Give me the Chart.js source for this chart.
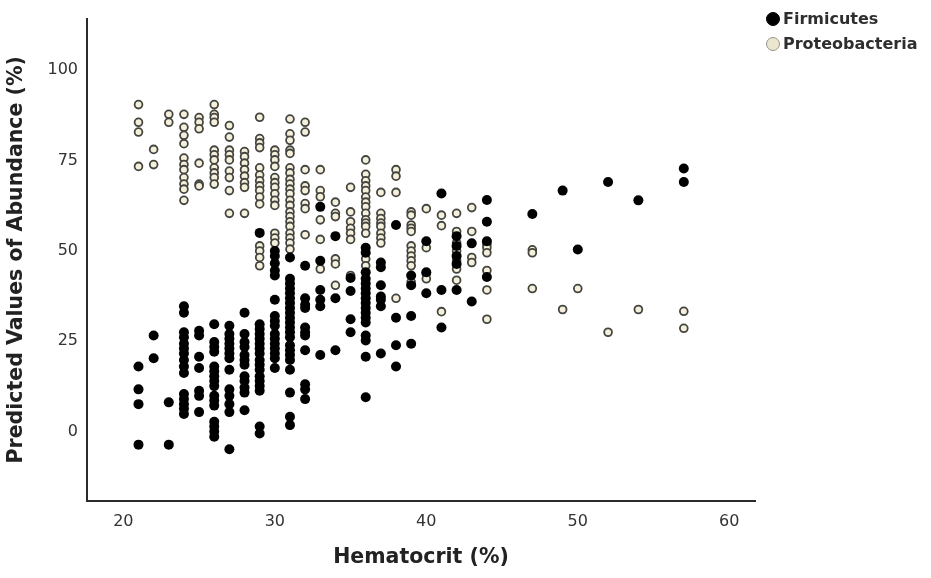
<!DOCTYPE html>
<html>
<head>
<meta charset="utf-8">
<script src="https://cdn.jsdelivr.net/npm/chart.js@4/dist/chart.umd.min.js"></script>
<style>
  html, body { margin: 0; padding: 0; background: #fff; }
  #wrap { position: relative; width: 931px; height: 578px; }
  #legend { position: absolute; left: 766px; top: 6px; font-family: "DejaVu Sans", sans-serif; font-weight: bold; font-size: 16px; color: #2e2e2e; }
  .item { display: flex; align-items: center; height: 25px; }
  .mk { width: 14px; height: 14px; border-radius: 50%; box-sizing: border-box; margin-right: 3px; }
</style>
</head>
<body>
<div id="wrap">
  <canvas id="c" width="931" height="578"></canvas>
  <div id="legend"></div>
</div>
<script>
// ---- data ----
const seriesNames = ["Firmicutes", "Proteobacteria"];
const hematocritLevels = [21,22,23,24,25,26,27,28,29,30,31,32,33,34,35,36,37,38,39,40,41,42,43,44,47,49,50,52,54,57];
const firmicutesByLevel = [
  [18.0, 11.7, 7.6, -3.6],
  [26.6, 20.3],
  [8.1, -3.6],
  [34.7, 32.9, 27.5, 26.1, 24.3, 23.0, 21.6, 19.8, 18.0, 16.2, 10.4, 9.0, 7.6, 6.3, 4.9],
  [27.9, 26.6, 20.7, 17.6, 11.3, 9.9, 5.4],
  [29.7, 24.8, 23.4, 22.1, 18.0, 16.7, 15.3, 14.0, 12.6, 9.9, 8.6, 7.2, 2.7, 1.4, 0, -1.4],
  [29.3, 27.0, 25.7, 24.3, 23.0, 21.6, 20.3, 17.1, 11.7, 9.9, 7.6, 5.4, -4.9],
  [32.9, 27.0, 24.8, 23.4, 21.2, 19.8, 18.5, 15.3, 14.0, 12.2, 10.8, 5.9],
  [55.0, 29.7, 28.4, 27.0, 25.7, 24.3, 23.0, 21.6, 19.8, 18.5, 17.1, 15.3, 14.0, 12.6, 11.3, 1.4, -0.5],
  [50.0, 48.6, 46.6, 44.6, 43.2, 36.5, 32.0, 30.6, 29.3, 27.0, 25.7, 24.3, 23.0, 21.6, 20.3, 17.6],
  [48.2, 42.3, 41.0, 39.6, 38.3, 36.9, 35.6, 34.2, 32.9, 31.5, 30.2, 28.8, 27.5, 26.1, 23.9, 22.5, 21.2, 19.8, 17.1, 10.8, 4.1, 1.8],
  [45.9, 36.9, 35.1, 34.2, 28.8, 27.5, 26.6, 22.5, 13.1, 11.7, 9.0],
  [62.2, 47.3, 39.2, 36.5, 34.7, 21.2],
  [54.1, 36.9, 22.5],
  [42.5, 38.9, 31.1, 27.5],
  [50.9, 49.5, 44.1, 42.3, 41.0, 39.6, 38.3, 36.9, 35.6, 34.2, 32.9, 31.5, 30.2, 26.6, 25.2, 20.7, 9.5],
  [46.8, 45.5, 40.5, 37.4, 36.5, 34.7, 21.6],
  [57.2, 31.5, 23.9, 18.0],
  [43.2, 40.5, 32.0, 24.3],
  [52.7, 44.1, 38.3],
  [65.9, 39.2, 28.8],
  [54.1, 51.4, 48.6, 46.4, 39.2],
  [52.1, 36.0],
  [64.1, 58.1, 52.7, 42.8],
  [60.2],
  [66.7],
  [50.4],
  [69.1],
  [64.0],
  [72.8, 69.1]
];
const proteobacteriaByLevel = [
  [90.5, 85.6, 82.9, 73.4],
  [78.1, 73.9],
  [87.8, 85.6],
  [87.8, 84.2, 82.0, 79.7, 75.7, 73.9, 72.5, 70.3, 68.5, 67.1, 64.0],
  [86.9, 85.6, 83.8, 74.3, 68.5, 68.0],
  [90.5, 87.8, 86.9, 85.6, 77.9, 76.6, 75.2, 73.0, 71.6, 70.3, 68.5],
  [84.7, 81.5, 77.9, 76.6, 75.2, 72.1, 70.3, 66.7, 60.4],
  [77.5, 76.1, 74.3, 72.5, 70.7, 68.9, 67.6, 60.4],
  [87.0, 81.1, 79.9, 78.6, 73.0, 71.0, 69.4, 68.0, 66.7, 64.9, 63.0, 51.4, 50.0, 48.2, 45.9],
  [77.9, 76.6, 75.2, 73.4, 70.3, 68.9, 67.6, 65.8, 64.0, 62.6, 54.9, 53.6, 52.2],
  [86.5, 82.4, 80.6, 77.9, 77.0, 73.0, 71.6, 69.8, 68.5, 67.1, 65.8, 64.0, 62.6, 60.8, 59.5, 58.1, 56.8, 54.9, 53.6, 52.2, 50.5],
  [85.6, 82.9, 72.5, 68.0, 66.7, 63.1, 61.7, 54.5],
  [72.5, 66.7, 65.0, 58.6, 53.2, 45.0],
  [63.5, 60.4, 59.5, 47.8, 46.4, 40.5],
  [67.6, 60.8, 58.1, 56.3, 54.9, 53.2, 43.2],
  [75.2, 71.2, 69.4, 68.0, 66.7, 64.9, 63.5, 62.2, 60.4, 58.6, 57.7, 56.8, 54.9, 47.8, 45.9],
  [66.2, 60.4, 59.0, 57.7, 56.8, 54.9, 53.6, 52.2],
  [72.5, 70.7, 66.2, 36.9],
  [60.8, 59.9, 57.2, 56.3, 55.4, 51.4, 50.0, 48.6, 47.3, 45.9, 41.4],
  [61.7, 50.9, 43.7, 42.3],
  [59.9, 57.0, 33.2],
  [60.4, 55.4, 52.2, 50.0, 47.3, 45.0, 41.9],
  [62.0, 55.4, 48.2, 46.8],
  [51.8, 50.9, 49.5, 44.6, 39.2, 31.1],
  [50.3, 49.5, 39.6],
  [33.8],
  [39.6],
  [27.5],
  [33.8],
  [33.3, 28.6]
];
const xTickValues = [20, 30, 40, 50, 60];
const yTickValues = [0, 25, 50, 75, 100];
const xTitle = "Hematocrit (%)";
const yTitle = "Predicted Values of Abundance (%)";

// ---- build chart ----
function toPoints(byLevel) {
  const pts = [];
  byLevel.forEach((vals, i) => vals.forEach(v => pts.push({ x: hematocritLevels[i], y: v })));
  return pts;
}
const styles = [
  { bg: "#000000", border: "#000000", r: 5, bw: 0, legendBg: "#000", legendBorder: "#000" },
  { bg: "#f4f0dc", border: "#45453f", r: 3.9, bw: 1.8, legendBg: "#ebe6cf", legendBorder: "#9a968a" }
];
const datasets = [
  { label: seriesNames[1], data: toPoints(proteobacteriaByLevel), backgroundColor: styles[1].bg, borderColor: styles[1].border, borderWidth: styles[1].bw, pointRadius: styles[1].r, order: 2 },
  { label: seriesNames[0], data: toPoints(firmicutesByLevel), backgroundColor: styles[0].bg, borderColor: styles[0].border, borderWidth: styles[0].bw, pointRadius: styles[0].r, order: 1 }
];

const tickFont = { family: "DejaVu Sans", size: 16 };
const titleFont = { family: "DejaVu Sans", size: 20.5, weight: "bold" };

new Chart(document.getElementById("c"), {
  type: "scatter",
  data: { datasets },
  options: {
    responsive: false,
    devicePixelRatio: 1,
    animation: false,
    events: [],
    layout: { padding: { top: 7, right: 176, left: 0, bottom: 0 } },
    plugins: { legend: { display: false }, tooltip: { enabled: false } },
    scales: {
      x: {
        type: "linear",
        min: 17.6,
        max: 61.7,
        afterFit: s => { s.height = 77; },
        afterBuildTicks: s => { s.ticks = xTickValues.map(v => ({ value: v })); },
        grid: { display: false, drawTicks: false },
        border: { display: true, color: "#2b2b2b", width: 2 },
        ticks: { font: tickFont, color: "#333", padding: 11, maxRotation: 0 },
        title: { display: true, text: xTitle, font: titleFont, color: "#222", padding: { top: 0, bottom: 8 } }
      },
      y: {
        type: "linear",
        min: -19.2,
        max: 114.3,
        afterFit: s => { s.width = 87; },
        afterBuildTicks: s => { s.ticks = yTickValues.map(v => ({ value: v })); },
        grid: { display: false, drawTicks: false },
        border: { display: true, color: "#2b2b2b", width: 2 },
        ticks: { font: tickFont, color: "#333", padding: 9 },
        title: { display: true, text: yTitle, font: titleFont, color: "#222", padding: { top: 4, bottom: 0 } }
      }
    }
  }
});

// legend as HTML text
const legend = document.getElementById("legend");
seriesNames.forEach((name, i) => {
  const item = document.createElement("div");
  item.className = "item";
  const mk = document.createElement("span");
  mk.className = "mk";
  mk.style.background = styles[i].legendBg;
  mk.style.border = "1px solid " + styles[i].legendBorder;
  const t = document.createElement("span");
  t.textContent = name;
  item.appendChild(mk); item.appendChild(t);
  legend.appendChild(item);
});
</script>
</body>
</html>
